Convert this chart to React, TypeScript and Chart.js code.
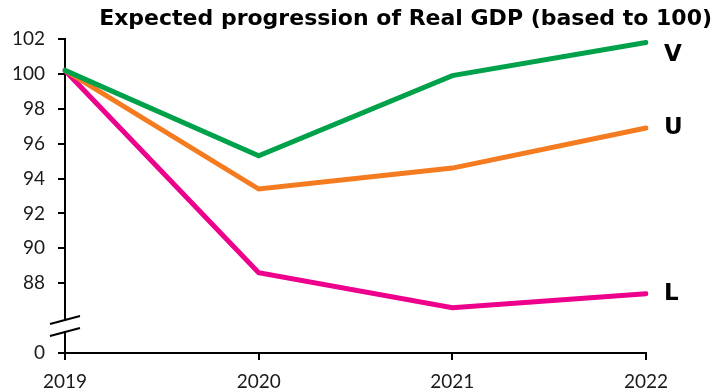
import React, { useEffect, useRef } from "react";
import { Chart, registerables } from "chart.js";

Chart.register(...registerables);

const years = ["2019", "2020", "2021", "2022"];
const seriesV = [100.2, 95.3, 99.9, 101.8];
const seriesU = [100.2, 93.4, 94.6, 96.9];
const seriesL = [100.2, 88.6, 86.6, 87.4];
const seriesNames = ["V", "U", "L"];
const seriesColors = ["#00A14B", "#F47B20", "#EC008C"];
// y tick labels; "0" sits at the axis base below the break
const yTickValues = [0, 88, 90, 92, 94, 96, 98, 100, 102];
const AXIS_BASE = 84; // axis position used to show the 0 value (broken axis)
const AXIS_MAX = 102;
const titleText = "Expected progression of Real GDP (based to 100)";

const FONT = "Lato";

const overlayPlugin = {
  id: "overlay",
  afterDraw(chart: any) {
    const ctx = chart.ctx;
    const area = chart.chartArea;
    const yScale = chart.scales.y;
    const xScale = chart.scales.x;
    ctx.save();
    // title
    ctx.fillStyle = "#000";
    ctx.font = "bold 22px 'DejaVu Sans'";
    ctx.textAlign = "right";
    ctx.textBaseline = "middle";
    ctx.fillText(titleText, 712, 19);

    // axis break
    const yBreak = yScale.getPixelForValue(AXIS_BASE + 1.55);
    const x0 = area.left;
    ctx.fillStyle = "#fff";
    ctx.fillRect(x0 - 3, yBreak - 5, 6, 10);
    ctx.strokeStyle = "#000";
    ctx.lineWidth = 2;
    ctx.beginPath();
    ctx.moveTo(x0 - 15, yBreak - 2);
    ctx.lineTo(x0 + 15, yBreak - 10);
    ctx.moveTo(x0 - 15, yBreak + 10);
    ctx.lineTo(x0 + 15, yBreak + 2);
    ctx.stroke();

    // series labels
    ctx.fillStyle = "#000";
    ctx.font = "bold 23px 'DejaVu Sans'";
    ctx.textAlign = "left";
    ctx.textBaseline = "middle";
    chart.data.datasets.forEach((ds: any, i: number) => {
      const last = ds.data.length - 1;
      const px = xScale.getPixelForValue(last);
      const py = yScale.getPixelForValue(ds.data[last]);
      ctx.fillText(seriesNames[i], px + 18, Math.max(py, area.top + 16));
    });
    ctx.restore();
  },
};

export default function App() {
  const ref = useRef<HTMLCanvasElement>(null);
  useEffect(() => {
    if (!ref.current) return;
    const chart = new Chart(ref.current, {
      type: "line",
      data: {
        labels: years,
        datasets: [seriesV, seriesU, seriesL].map((d, i) => ({
          label: seriesNames[i],
          data: d,
          borderColor: seriesColors[i],
          backgroundColor: seriesColors[i],
          borderWidth: 5,
          pointRadius: 0,
          tension: 0,
          borderCapStyle: "round",
        })),
      },
      options: {
        responsive: false,
        animation: false,
        layout: { padding: { top: 39, right: 69, bottom: 0, left: 0 } },
        plugins: { legend: { display: false }, title: { display: false }, tooltip: { enabled: false } },
        scales: {
          x: {
            type: "category",
            offset: false,
            grid: { drawOnChartArea: false, tickLength: 7, color: "#000", lineWidth: 2 },
            border: { display: true, color: "#000", width: 2 },
            ticks: { color: "#1a1a1a", font: { family: FONT, size: 19 }, padding: 10, maxRotation: 0 },
            afterFit(s: any) { s.height = 38; },
          },
          y: {
            type: "linear",
            min: AXIS_BASE,
            max: AXIS_MAX,
            grid: { drawOnChartArea: false, tickLength: 7, color: "#000", lineWidth: 2 },
            border: { display: true, color: "#000", width: 2 },
            afterBuildTicks(s: any) {
              s.ticks = yTickValues.map((v) => ({ value: v === 0 ? AXIS_BASE : v }));
            },
            ticks: {
              color: "#1a1a1a",
              font: { family: FONT, size: 19 },
              padding: 13,
              callback: (v: any) => (v === AXIS_BASE ? "0" : String(v)),
            },
            afterFit(s: any) { s.width = 65; },
          },
        },
      },
      plugins: [overlayPlugin],
    } as any);
    return () => chart.destroy();
  }, []);
  return (
    <div style={{ position: "absolute", left: 0, top: 0, width: 715, height: 391, background: "#fff" }}>
      <canvas ref={ref} width={715} height={391} style={{ display: "block" }} />
    </div>
  );
}
